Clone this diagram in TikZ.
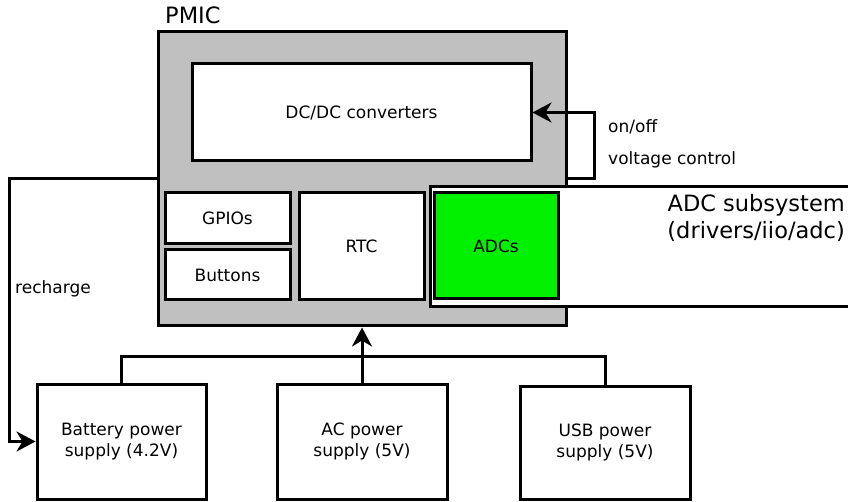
\documentclass[tikz,border=0pt]{standalone}
\usepackage{fontspec}
\setmainfont{DejaVu Sans}
\usetikzlibrary{arrows.meta}
\definecolor{pmicgray}{RGB}{192,192,192}
\definecolor{adcgreen}{RGB}{0,240,0}
\begin{document}
\begin{tikzpicture}[x=1pt,y=-1pt,
  box/.style={draw, line width=3pt, fill=white, inner sep=0pt,
    font=\fontsize{17}{21}\selectfont, align=center},
  lbl/.style={inner sep=0pt, font=\fontsize{17}{21}\selectfont},
  big/.style={inner sep=0pt, font=\fontsize{22.5}{27}\selectfont},
  conn/.style={line width=3pt},
  arr/.style={conn, -{Stealth[length=19pt,width=20pt,inset=6pt]}}]
\useasboundingbox (0,0) rectangle (848,502);

% PMIC
\node[box, fill=pmicgray, minimum width=408, minimum height=294] (pmic) at (362,179) {};
\node[big, anchor=base west] (pmiclbl) at (165,23.5) {PMIC};

\node[box, minimum width=339, minimum height=97] (dcdc) at (361.5,112.5) {DC/DC converters};
\node[box, minimum width=125, minimum height=51] (gpio) at (227.5,218.5) {GPIOs};
\node[box, minimum width=125, minimum height=50] (btn) at (227.5,275) {Buttons};
\node[box, minimum width=125, minimum height=107] (rtc) at (361.5,246.5) {RTC};

% ADC subsystem
\node[box, minimum width=440, minimum height=120, anchor=north west] (adcsub) at (429,185) {};
\node[big, anchor=north east, align=right] (adcsublbl) at (845,194)
  {ADC subsystem\\(drivers/iio/adc)};
\node[box, fill=adcgreen, minimum width=124, minimum height=106] (adc) at (496,246) {ADCs};

% power supplies
\node[box, minimum width=169, minimum height=115] (batt) at (121.5,441.5) {Battery power\\supply (4.2V)};
\node[box, minimum width=170, minimum height=115] (ac) at (362,441.5) {AC power\\supply (5V)};
\node[box, minimum width=170, minimum height=113] (usb) at (605,442.5) {USB power\\supply (5V)};

% connectors
\coordinate (vr) at (594,179);
\draw[arr] (pmic.east) -- (vr) |- (dcdc.east);
\node[lbl, anchor=base west] (onoff) at (608,132.5) {on/off};
\node[lbl, anchor=base west] (vctl) at (608,165) {voltage control};

\coordinate (rl) at (9,179);
\draw[arr] (pmic.west) -- (rl) |- (batt.west);
\node[lbl, anchor=base west] (rech) at (15,294) {recharge};

\coordinate (bus) at (362,356);
\draw[conn] (batt.north) |- (bus) -| (usb.north);
\draw[arr] (ac.north) -- (pmic.south);
\end{tikzpicture}
\end{document}
